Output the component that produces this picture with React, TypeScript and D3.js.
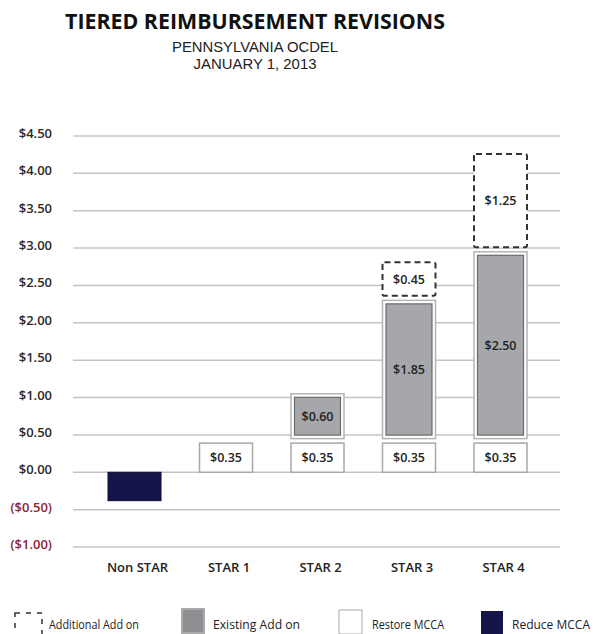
import React from "react";
import * as d3 from "d3";

const categories = ["Non STAR", "STAR 1", "STAR 2", "STAR 3", "STAR 4"];
const reduceMCCA = [-0.38, 0, 0, 0, 0];
const restoreMCCA = [0, 0.35, 0.35, 0.35, 0.35];
const existingAddOn = [0, 0, 0.6, 1.85, 2.5];
const additionalAddOn = [0, 0, 0, 0.45, 1.25];
const yTicks = [4.5, 4.0, 3.5, 3.0, 2.5, 2.0, 1.5, 1.0, 0.5, 0.0, -0.5, -1.0];
const legendItems = ["Additional Add on", "Existing Add on", "Restore MCCA", "Reduce MCCA"];
const titleLines = ["TIERED REIMBURSEMENT REVISIONS", "PENNSYLVANIA OCDEL", "JANUARY 1, 2013"];

const W = 596;
const H = 634;
const FONT = "'Open Sans', 'DejaVu Sans', sans-serif";
const SUBFONT = "'Liberation Sans', Arial, sans-serif";

export default function App() {
  const y = d3.scaleLinear().domain([-1, 4.5]).range([547, 136]);
  const x = d3.scalePoint<string>().domain(categories).range([134.5, 500.5]);
  const barW = 53;
  const gap = 4.5;
  const gridX0 = 73;
  const gridX1 = 560;

  const fmt = (v: number) =>
    v < 0 ? `($${Math.abs(v).toFixed(2)})` : `$${v.toFixed(2)}`;

  const bars: React.ReactNode[] = [];
  categories.forEach((c, i) => {
    const cx = x(c)!;
    const left = cx - barW / 2;
    if (reduceMCCA[i] < 0) {
      bars.push(
        <rect
          key={`red-${i}`}
          x={left}
          y={y(0)}
          width={barW}
          height={y(reduceMCCA[i]) - y(0)}
          fill="#15154a"
          stroke="#0c0c30"
          strokeWidth={1}
        />
      );
    }
    let cursor = y(0);
    if (restoreMCCA[i] > 0) {
      const h = y(0) - y(restoreMCCA[i]) + 3;
      const top = cursor - h;
      bars.push(
        <g key={`rest-${i}`}>
          <rect x={left} y={top} width={barW} height={h} fill="#fff" stroke="#a8a8a8" strokeWidth={1.5} />
          <text x={cx} y={top + h / 2 + 4.5} textAnchor="middle" fontSize={12.5} fontWeight={600} fill="#222" fontFamily={FONT}>
            {fmt(restoreMCCA[i])}
          </text>
        </g>
      );
      cursor = top - gap;
    }
    if (existingAddOn[i] > 0) {
      const h = y(0) - y(existingAddOn[i]);
      const top = cursor - h;
      bars.push(
        <g key={`ex-${i}`}>
          <rect x={left} y={top} width={barW} height={h} fill="#fff" stroke="#b4b4b4" strokeWidth={1.5} />
          <rect x={left + 3.5} y={top + 3.5} width={barW - 7} height={h - 7} fill="#a5a7aa" stroke="#6a6a6a" strokeWidth={1.2} />
          <text x={cx} y={top + h / 2 + 4.5} textAnchor="middle" fontSize={12.5} fontWeight={600} fill="#222" fontFamily={FONT}>
            {fmt(existingAddOn[i])}
          </text>
        </g>
      );
      cursor = top - gap;
    }
    if (additionalAddOn[i] > 0) {
      const h = y(0) - y(additionalAddOn[i]);
      const top = cursor - h;
      bars.push(
        <g key={`add-${i}`}>
          <rect x={left} y={top} width={barW} height={h} fill="#fff" stroke="#333" strokeWidth={2} strokeDasharray="6,4" rx={2} />
          <text x={cx} y={top + h / 2 + 4.5} textAnchor="middle" fontSize={12.5} fontWeight={600} fill="#222" fontFamily={FONT}>
            {fmt(additionalAddOn[i])}
          </text>
        </g>
      );
      cursor = top - gap;
    }
  });

  const legendX = [15, 182, 339, 481];
  const legendTextX = [49, 213, 372, 512];

  return (
    <svg width={W} height={H} style={{ position: "absolute", left: 0, top: 0, background: "#fff" }}>
      <rect width={W} height={H} fill="#fff" />
      <text x={255} y={29} textAnchor="middle" fontSize={22} fontWeight={700} fill="#111" fontFamily={FONT} textLength={380} lengthAdjust="spacingAndGlyphs">
        {titleLines[0]}
      </text>
      <text x={255} y={51.5} textAnchor="middle" fontSize={15} fontWeight={400} fill="#222" fontFamily={SUBFONT} textLength={166} lengthAdjust="spacingAndGlyphs">
        {titleLines[1]}
      </text>
      <text x={255} y={69} textAnchor="middle" fontSize={15} fontWeight={400} fill="#222" fontFamily={SUBFONT} textLength={123} lengthAdjust="spacingAndGlyphs">
        {titleLines[2]}
      </text>

      {yTicks.map((t) => (
        <g key={`t-${t}`}>
          <line x1={gridX0} x2={gridX1} y1={y(t)} y2={y(t)} stroke="#c4c4c4" strokeWidth={1.5} />
          <text x={52} y={y(t) + 2} textAnchor="end" fontSize={13} fontWeight={600} fill={t < 0 ? "#8c2434" : "#2a2a2a"} fontFamily={FONT}>
            {fmt(t)}
          </text>
        </g>
      ))}

      {bars}

      {categories.map((c) => (
        <text key={`c-${c}`} x={x(c)! + 3} y={572} textAnchor="middle" fontSize={13} fontWeight={600} fill="#222" fontFamily={FONT}>
          {c}
        </text>
      ))}

      <rect x={legendX[0]} y={613} width={27} height={30} fill="#fff" stroke="#333" strokeWidth={1.5} strokeDasharray="5,6" />
      <rect x={legendX[1]} y={609} width={22} height={24} fill="#8e8f92" stroke="#aaa" strokeWidth={2} />
      <rect x={legendX[2]} y={610} width={23} height={24} fill="#fff" stroke="#aaa" strokeWidth={1} />
      <rect x={legendX[3]} y={611} width={22} height={23} fill="#15154a" />
      {legendItems.map((l, i) => (
        <text key={`l-${i}`} x={legendTextX[i]} y={629} fontSize={12.5} fill="#222" fontFamily={FONT} textLength={[90, 87, 72, 78][i]} lengthAdjust="spacingAndGlyphs">
          {l}
        </text>
      ))}
    </svg>
  );
}
